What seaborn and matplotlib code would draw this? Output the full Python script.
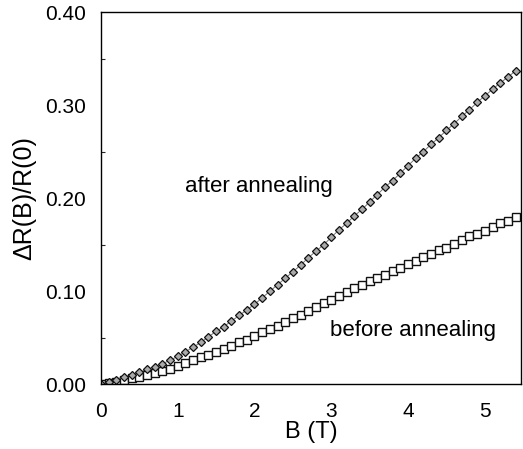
import numpy as np
import pandas as pd
import matplotlib
matplotlib.use("Agg")
import matplotlib.pyplot as plt
import seaborn as sns
from matplotlib.ticker import MultipleLocator

B = [round(0.1 * i, 1) for i in range(55)]
after = [0.000, 0.002, 0.005, 0.008, 0.010, 0.013, 0.016, 0.019, 0.022, 0.026,
         0.030, 0.035, 0.040, 0.045, 0.051, 0.057, 0.062, 0.068, 0.074, 0.080,
         0.086, 0.093, 0.100, 0.107, 0.114, 0.121, 0.128, 0.136, 0.143, 0.150,
         0.158, 0.166, 0.173, 0.181, 0.188, 0.196, 0.204, 0.212, 0.219, 0.227,
         0.235, 0.243, 0.250, 0.258, 0.265, 0.273, 0.280, 0.288, 0.295, 0.303,
         0.310, 0.317, 0.324, 0.330, 0.337]
before = [0.000, 0.001, 0.003, 0.005, 0.0065, 0.008, 0.010, 0.012, 0.0145, 0.017,
          0.020, 0.023, 0.026, 0.029, 0.032, 0.035, 0.038, 0.041, 0.045, 0.048,
          0.052, 0.056, 0.060, 0.063, 0.067, 0.071, 0.075, 0.079, 0.083, 0.087,
          0.091, 0.095, 0.099, 0.103, 0.107, 0.111, 0.114, 0.118, 0.122, 0.125,
          0.129, 0.133, 0.137, 0.140, 0.144, 0.147, 0.151, 0.155, 0.159, 0.162,
          0.165, 0.169, 0.173, 0.176, 0.180]
xticks = [0, 1, 2, 3, 4, 5]
yticks = [0.00, 0.10, 0.20, 0.30, 0.40]

sns.set_theme(style="white")
plt.rcParams['font.family'] = ['Liberation Sans', 'DejaVu Sans']

df = pd.DataFrame({"B": B, "after": after, "before": before})

fig = plt.figure(figsize=(5.23, 4.49), dpi=100)
ax = fig.add_axes([0.193, 0.144, 0.803, 0.829])

sns.lineplot(data=df, x="B", y="before", ax=ax, color="#777777", linewidth=0.7,
             marker="s", markersize=5.3, markerfacecolor="white",
             markeredgecolor="#111111", markeredgewidth=1.0)
sns.lineplot(data=df, x="B", y="after", ax=ax, color="#777777", linewidth=0.7,
             marker="D", markersize=3.6, markerfacecolor="#aaaaaa",
             markeredgecolor="#111111", markeredgewidth=0.9)

ax.set_xlim(0, 5.47)
ax.set_ylim(0, 0.40)
ax.set_xticks(xticks)
ax.set_xticklabels([str(t) for t in xticks])
ax.set_yticks(yticks)
ax.set_yticklabels([f"{t:.2f}" for t in yticks])
ax.yaxis.set_minor_locator(MultipleLocator(0.05))

for s in ax.spines.values():
    s.set_color("black")
    s.set_linewidth(1.0)

ax.tick_params(axis="x", which="major", direction="out", length=5, width=1,
               pad=8, labelsize=15, colors="black")
ax.tick_params(axis="y", which="major", direction="out", length=5, width=1,
               pad=6, labelsize=15, colors="black")
ax.tick_params(axis="y", which="minor", direction="in", length=3, width=0.8,
               left=True)

ax.set_xlabel("B (T)", fontsize=17, labelpad=0, color="black")
ax.set_ylabel("ΔR(B)/R(0)", fontsize=18, labelpad=6, color="black")

ax.text(1.09, 0.213, "after annealing", fontsize=16, va="center", ha="left", color="black")
ax.text(2.98, 0.058, "before annealing", fontsize=16, va="center", ha="left", color="black")

fig.savefig("out.png", dpi=100)
